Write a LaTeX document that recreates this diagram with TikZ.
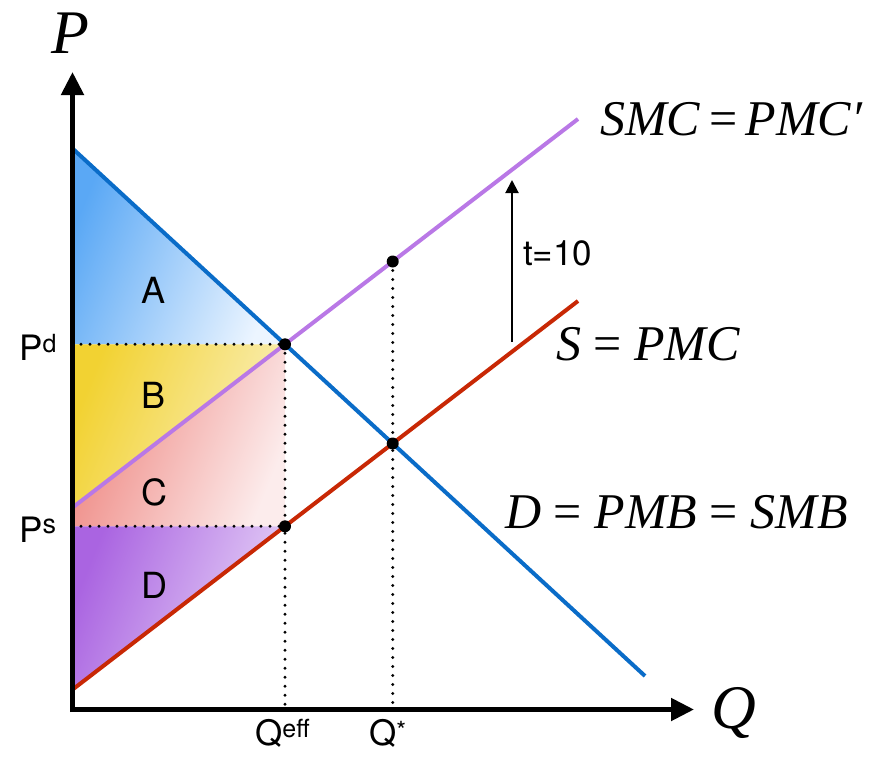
\documentclass[tikz,border=0pt]{standalone}
\usepackage{fontspec}
\setmainfont{TeX Gyre Heros}
\newfontfamily\serifit{Liberation Serif}
\usetikzlibrary{arrows.meta}
\definecolor{dblue}{RGB}{10,108,200}
\definecolor{spurple}{RGB}{185,120,230}
\definecolor{sred}{RGB}{200,40,5}
\definecolor{fillA}{RGB}{90,168,245}
\definecolor{fillAr}{RGB}{236,245,255}
\definecolor{fillB}{RGB}{242,210,50}
\definecolor{fillBr}{RGB}{250,240,190}
\definecolor{fillC}{RGB}{238,132,126}
\definecolor{fillCr}{RGB}{252,236,236}
\definecolor{fillD}{RGB}{170,100,225}
\definecolor{fillDr}{RGB}{232,214,248}
\tikzset{
  sanslbl/.style={font=\fontsize{35}{40}\selectfont, inner sep=0pt, anchor=base west},
  arealbl/.style={font=\fontsize{36}{40}\selectfont, inner sep=0pt, anchor=center},
  serlbl/.style={font=\serifit\fontsize{50}{56}\selectfont, inner sep=0pt, anchor=base west},
  axislbl/.style={font=\serifit\fontsize{62}{70}\selectfont\itshape, inner sep=0pt, anchor=base west},
  curve/.style={line width=4pt},
  guide/.style={line width=3.2pt, dash pattern=on 0pt off 9pt, line cap=round},
  eqpt/.style={circle, fill=black, inner sep=0pt, minimum size=12pt},
  axisline/.style={line width=5pt, -{Triangle[length=23pt,width=22pt]}},
  taxarrow/.style={line width=2pt, -{Triangle[length=13pt,width=13pt]}},
  areashade/.style 2 args={left color=#1, right color=#2, shading angle=68}
}
\begin{document}
\begin{tikzpicture}[x=1pt,y=-1pt]
\useasboundingbox (0,0) rectangle (870,760);
% key coordinates
\coordinate (O) at (72.5,709.5);
\coordinate (Dtop) at (72,148);
\coordinate (Dend) at (645,676);
\coordinate (Mtop) at (72,508);
\coordinate (Mend) at (578,119);
\coordinate (Stop) at (72,690);
\coordinate (Send) at (578,301);
\coordinate (E1) at (285,344.3);
\coordinate (E2) at (392.7,443.5);
\coordinate (E3) at (392.7,261.5);
\coordinate (Ps) at (285,526.3);
\coordinate (PdL) at (72,344.3);
\coordinate (PsL) at (72,526.3);
\coordinate (QeffB) at (285,709.5);
\coordinate (QstB) at (392.7,709.5);
\coordinate (Ytip) at (72.5,72);
\coordinate (Xtip) at (694,709.5);
\coordinate (Tbot) at (512,342);
\coordinate (Ttop) at (512,180);
% shaded areas
\shade[areashade={fillA}{fillAr}] (Dtop) -- (PdL) -- (E1) -- cycle;
\shade[areashade={fillB}{fillBr}] (PdL) -- (E1) -- (Mtop) -- cycle;
\shade[areashade={fillC}{fillCr}] (Mtop) -- (E1) -- (Ps) -- (PsL) -- cycle;
\shade[areashade={fillD}{fillDr}] (PsL) -- (Ps) -- (Stop) -- cycle;
% guides
\draw[guide] (PdL) -- (E1);
\draw[guide] (PsL) -- (Ps);
\draw[guide] (E1) -- (QeffB);
\draw[guide] (E3) -- (QstB);
% curves
\draw[curve, dblue] (Dtop) -- (Dend);
\draw[curve, spurple] (Mtop) -- (Mend);
\draw[curve, sred] (Stop) -- (Send);
% axes
\draw[axisline] (72.5,712) -- (Ytip);
\draw[axisline] (70,709.5) -- (Xtip);
% tax arrow
\draw[taxarrow] (Tbot) -- (Ttop);
% points
\node[eqpt] (pE1) at (E1) {};
\node[eqpt] (pE2) at (E2) {};
\node[eqpt] (pE3) at (E3) {};
\node[eqpt] (pPs) at (Ps) {};
% area labels
\node[arealbl] (lA) at (154,290) {A};
\node[arealbl] (lB) at (154,395) {B};
\node[arealbl] (lC) at (154,492) {C};
\node[arealbl] (lD) at (154,585) {D};
% axis value labels
\node[sanslbl] (lPd) at (19,360) {P\raisebox{8pt}{\fontsize{25}{25}\selectfont d}};
\node[sanslbl] (lPs) at (19,542) {P\raisebox{9pt}{\fontsize{27}{27}\selectfont s}};
\node[sanslbl] (lQeff) at (255,745) {Q\raisebox{8pt}{\fontsize{25}{25}\selectfont eff}};
\node[sanslbl] (lQst) at (369,745) {Q\raisebox{6pt}{\fontsize{25}{25}\selectfont *}};
\node[sanslbl] (lt) at (523,265) {t=10};
% curve labels
\node[serlbl] (lSMC) at (600,135) {\itshape SMC\/\upshape\,=\,\itshape PMC′};
\node[serlbl] (lS) at (556,360) {\itshape S\/\upshape{} = \itshape PMC};
\node[serlbl] (lDem) at (505,528) {\itshape D\/\upshape{} = \itshape PMB\/\upshape{} = \itshape SMB};
% axis labels
\node[axislbl] (lP) at (51,54) {P};
\node[axislbl] (lQ) at (711,728) {Q};
\end{tikzpicture}
\end{document}
